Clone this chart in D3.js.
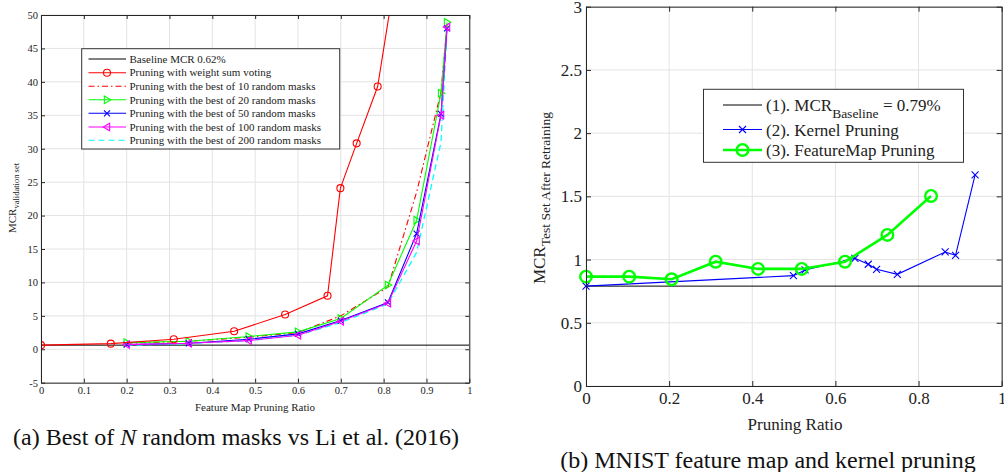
<!DOCTYPE html>
<html><head><meta charset="utf-8">
<script src="https://cdn.jsdelivr.net/npm/d3@7/dist/d3.min.js"></script>
<style>
body{margin:0;background:#fff;}
svg{font-family:"Liberation Serif","Times New Roman",Times,serif;}
</style></head>
<body><svg id="c" width="1004" height="472"></svg>
<script>
// ---------- Left chart data ----------
const leftXTicks = [0,0.1,0.2,0.3,0.4,0.5,0.6,0.7,0.8,0.9,1];
const leftYTicks = [-5,0,5,10,15,20,25,30,35,40,45,50];
const baselineLeft = 0.62;
const voteX = [0, 0.163, 0.31, 0.451, 0.57, 0.669, 0.699, 0.737, 0.786, 0.875];
const voteY = [0.62, 0.84, 1.5, 2.7, 5.2, 8.0, 24.1, 30.8, 39.3, 75];
const maskX = [0.2, 0.345, 0.485, 0.6, 0.7, 0.81, 0.877, 0.934, 0.948];
const best10Y  = [0.9, 1.2, 1.8, 2.5, 5.0, 9.3, 23.5, 38.5, 48.5];
const best20Y  = [1.0, 1.2, 1.9, 2.6, 4.6, 9.6, 19.3, 38.3, 48.9];
const best50Y  = [0.7, 0.9, 1.5, 2.3, 4.3, 7.0, 17.3, 35.2, 48.0];
const best100Y = [0.7, 0.9, 1.3, 2.1, 4.2, 6.9, 16.2, 35.0, 48.2];
const best200Y = [0.6, 0.85, 1.3, 2.1, 4.0, 6.8, 14.5, 31.0, 48.0];
const leftLegend = ["Baseline MCR 0.62%","Pruning with weight sum voting","Pruning with the best of 10 random masks","Pruning with the best of 20 random masks","Pruning with the best of 50 random masks","Pruning with the best of 100 random masks","Pruning with the best of 200 random masks"];

// ---------- Right chart data ----------
const rightXTicks = [0,0.2,0.4,0.6,0.8,1];
const rightYTicks = [0,0.5,1,1.5,2,2.5,3];
const baselineRight = 0.79;
const fmX = [0, 0.104, 0.206, 0.312, 0.414, 0.519, 0.623, 0.725, 0.83];
const fmY = [0.865, 0.865, 0.844, 0.983, 0.926, 0.926, 0.983, 1.195, 1.503];
const kX = [0, 0.499, 0.527, 0.647, 0.679, 0.699, 0.749, 0.864, 0.889, 0.936];
const kY = [0.79, 0.873, 0.918, 1.01, 0.963, 0.923, 0.883, 1.06, 1.034, 1.67];

const svg = d3.select("#c");
const AX = "#262626", GRID = "#e3e3e3";
const fmt = d => String(+d.toFixed(2));

function frame(g, x, y, xt, yt){
  const [x0,x1] = x.range(), [y0,y1] = y.range();
  g.append("g").selectAll("line").data(xt).join("line")
    .attr("x1",d=>x(d)).attr("x2",d=>x(d)).attr("y1",y0).attr("y2",y1)
    .attr("stroke",GRID).attr("stroke-width",1);
  g.append("g").selectAll("line").data(yt).join("line")
    .attr("y1",d=>y(d)).attr("y2",d=>y(d)).attr("x1",x0).attr("x2",x1)
    .attr("stroke",GRID).attr("stroke-width",1);
}
function border(g, x, y, xt, yt, fs, tl, ylabOff, xlabOff){
  const [x0,x1] = x.range(), [y0,y1] = y.range();
  const bx = d3.axisBottom(x).tickValues(xt).tickFormat(fmt).tickSizeInner(-tl).tickSizeOuter(0).tickPadding(tl+xlabOff);
  const ax = g.append("g").attr("transform",`translate(0,${y0})`).call(bx);
  const tx = d3.axisTop(x).tickValues(xt).tickFormat("").tickSizeInner(-tl).tickSizeOuter(0);
  const at = g.append("g").attr("transform",`translate(0,${y1})`).call(tx);
  const ly = d3.axisLeft(y).tickValues(yt).tickFormat(fmt).tickSizeInner(-tl).tickSizeOuter(0).tickPadding(tl+ylabOff);
  const al = g.append("g").attr("transform",`translate(${x0},0)`).call(ly);
  const ry = d3.axisRight(y).tickValues(yt).tickFormat("").tickSizeInner(-tl).tickSizeOuter(0);
  const ar = g.append("g").attr("transform",`translate(${x1},0)`).call(ry);
  [ax,at,al,ar].forEach(a=>{
    a.attr("font-family",null);
    a.select(".domain").attr("stroke",AX).attr("stroke-width",1);
    a.selectAll(".tick line").attr("stroke",AX);
    a.selectAll("text").attr("fill","#222").style("font-size",fs+"px");
  });
}
function cross(g, cx, cy, s, color, w){
  g.append("path").attr("d",`M${cx-s},${cy-s}L${cx+s},${cy+s}M${cx-s},${cy+s}L${cx+s},${cy-s}`)
    .attr("stroke",color).attr("stroke-width",w).attr("fill","none");
}
function tri(g, cx, cy, s, dir, color, w){
  const d = dir>0 ? `M${cx-s*0.7},${cy-s}L${cx+s},${cy}L${cx-s*0.7},${cy+s}Z` : `M${cx+s*0.7},${cy-s}L${cx-s},${cy}L${cx+s*0.7},${cy+s}Z`;
  g.append("path").attr("d",d).attr("stroke",color).attr("stroke-width",w).attr("fill","none");
}

// ================= LEFT =================
{
  const x = d3.scaleLinear().domain([0,1]).range([41,469.3]);
  const y = d3.scaleLinear().domain([-5,50]).range([382.7,15]);
  const g = svg.append("g");
  frame(g,x,y,leftXTicks,leftYTicks);
  g.append("defs").append("clipPath").attr("id","clipL").append("rect")
    .attr("x",41).attr("y",15).attr("width",428.3).attr("height",367.7);
  const d = g.append("g").attr("clip-path","url(#clipL)");
  const line = d3.line().x(p=>x(p[0])).y(p=>y(p[1]));
  const zip = (xs,ys)=>xs.map((v,i)=>[v,ys[i]]);
  d.append("line").attr("x1",x(0)).attr("x2",x(1)).attr("y1",y(baselineLeft)).attr("y2",y(baselineLeft)).attr("stroke","#000").attr("stroke-width",1);
  const series = [
    {ys:best200Y, c:"#00ffff", dash:"6,4", w:1.3, m:null},
    {ys:best10Y, c:"#ff0000", dash:"6,3,1.5,3", w:1.1, m:null},
    {ys:best20Y, c:"#00ff00", dash:null, w:1.1, m:"tr"},
    {ys:best50Y, c:"#0000ff", dash:null, w:1.1, m:"x"},
    {ys:best100Y, c:"#ff00ff", dash:null, w:1.1, m:"tl"},
  ];
  series.forEach(s=>{
    const pts = zip(maskX,s.ys);
    d.append("path").attr("d",line(pts)).attr("fill","none").attr("stroke",s.c).attr("stroke-width",s.w)
      .attr("stroke-dasharray",s.dash);
    if(s.m) pts.forEach(p=>{
      const cx=x(p[0]), cy=y(p[1]);
      if(s.m==="x") cross(d,cx,cy,3,s.c,1.1);
      else tri(d,cx,cy,3.8,s.m==="tr"?1:-1,s.c,1.1);
    });
  });
  const vpts = zip(voteX,voteY);
  d.append("path").attr("d",line(vpts)).attr("fill","none").attr("stroke","#ff0000").attr("stroke-width",1.1);
  d.selectAll("circle.v").data(vpts).join("circle").attr("cx",p=>x(p[0])).attr("cy",p=>y(p[1])).attr("r",3.5)
    .attr("fill","none").attr("stroke","#ff0000").attr("stroke-width",1.1);
  border(g,x,y,leftXTicks,leftYTicks,10.5,4,-1,0);
  g.append("text").attr("x",255).attr("y",411).attr("text-anchor","middle").style("font-size","11px").attr("fill","#222").text("Feature Map Pruning Ratio");
  const yl = g.append("text").attr("transform","translate(16,198) rotate(-90)").attr("text-anchor","middle").attr("fill","#222").style("font-size","11px");
  yl.append("tspan").text("MCR");
  yl.append("tspan").attr("dy",3).style("font-size","8.5px").text("validation set");
  const L = g.append("g");
  L.append("rect").attr("x",81.7).attr("y",48.7).attr("width",258).attr("height",100.3).attr("fill","#fff").attr("stroke","#333").attr("stroke-width",1);
  const rows=[59,72.7,86.2,99.8,113.3,127,140.3];
  const lstyle=[
    {c:"#000",dash:null,m:null},{c:"#ff0000",dash:null,m:"o"},{c:"#ff0000",dash:"6,3,1.5,3",m:null},
    {c:"#00ff00",dash:null,m:"tr"},{c:"#0000ff",dash:null,m:"x"},{c:"#ff00ff",dash:null,m:"tl"},{c:"#00ffff",dash:"6,4",m:null}];
  leftLegend.forEach((t,i)=>{
    const s=lstyle[i], yy=rows[i];
    L.append("line").attr("x1",88.5).attr("x2",126).attr("y1",yy).attr("y2",yy).attr("stroke",s.c).attr("stroke-width",1.1).attr("stroke-dasharray",s.dash);
    if(s.m==="o") L.append("circle").attr("cx",107).attr("cy",yy).attr("r",3.5).attr("fill","none").attr("stroke",s.c).attr("stroke-width",1.1);
    if(s.m==="x") cross(L,107,yy,3,s.c,1.1);
    if(s.m==="tr"||s.m==="tl") tri(L,107,yy,3.8,s.m==="tr"?1:-1,s.c,1.1);
    L.append("text").attr("x",129.5).attr("y",yy+3.7).style("font-size","11px").attr("fill","#222").text(t);
  });
}

// ================= RIGHT =================
{
  const x = d3.scaleLinear().domain([0,1]).range([586,1001.7]);
  const y = d3.scaleLinear().domain([0,3]).range([386,6.7]);
  const g = svg.append("g");
  frame(g,x,y,rightXTicks,rightYTicks);
  const line = d3.line().x(p=>x(p[0])).y(p=>y(p[1]));
  const zip = (xs,ys)=>xs.map((v,i)=>[v,ys[i]]);
  g.append("line").attr("x1",x(0)).attr("x2",x(1)).attr("y1",y(baselineRight)).attr("y2",y(baselineRight)).attr("stroke","#000").attr("stroke-width",1);
  const kp = zip(kX,kY);
  g.append("path").attr("d",line(kp)).attr("fill","none").attr("stroke","#0000ff").attr("stroke-width",1.1);
  kp.forEach(p=>cross(g,x(p[0]),y(p[1]),3.5,"#0000ff",1.1));
  const fp = zip(fmX,fmY);
  g.append("path").attr("d",line(fp)).attr("fill","none").attr("stroke","#00ff00").attr("stroke-width",2.6);
  g.selectAll("circle.f").data(fp).join("circle").attr("cx",p=>x(p[0])).attr("cy",p=>y(p[1])).attr("r",5.8)
    .attr("fill","none").attr("stroke","#00ff00").attr("stroke-width",2.4);
  border(g,x,y,rightXTicks,rightYTicks,17,5,-1,1);
  g.append("text").attr("x",795).attr("y",430).attr("text-anchor","middle").style("font-size","17px").attr("fill","#222").text("Pruning Ratio");
  const yl = g.append("text").attr("transform","translate(545,198) rotate(-90)").attr("text-anchor","middle").attr("fill","#222").style("font-size","17px");
  yl.append("tspan").text("MCR");
  yl.append("tspan").attr("dy",5).style("font-size","13.5px").text("Test Set After Retraining");
  const L = g.append("g");
  L.append("rect").attr("x",703.5).attr("y",89.3).attr("width",260).attr("height",73).attr("fill","#fff").attr("stroke","#333").attr("stroke-width",1);
  const t1 = L.append("text").attr("x",766).attr("y",110.5).style("font-size","17px").attr("fill","#222");
  t1.append("tspan").text("(1). MCR");
  t1.append("tspan").attr("dy",7).style("font-size","13.5px").text("Baseline");
  t1.append("tspan").attr("dy",-7).text(" = 0.79%");
  L.append("line").attr("x1",723).attr("x2",762).attr("y1",105).attr("y2",105).attr("stroke","#000").attr("stroke-width",1);
  L.append("line").attr("x1",723).attr("x2",762).attr("y1",129.5).attr("y2",129.5).attr("stroke","#0000ff").attr("stroke-width",1.1);
  cross(L,742.5,129.5,3.5,"#0000ff",1.1);
  L.append("text").attr("x",766).attr("y",135.5).style("font-size","17px").attr("fill","#222").text("(2). Kernel Pruning");
  L.append("line").attr("x1",723).attr("x2",762).attr("y1",150).attr("y2",150).attr("stroke","#00ff00").attr("stroke-width",2.6);
  L.append("circle").attr("cx",742.5).attr("cy",150).attr("r",5.8).attr("fill","none").attr("stroke","#00ff00").attr("stroke-width",2.4);
  L.append("text").attr("x",766).attr("y",156).style("font-size","17px").attr("fill","#222").text("(3). FeatureMap Pruning");
}

// ================= CAPTIONS =================
{
  const c1 = svg.append("text").attr("x",236).attr("y",445).attr("text-anchor","middle").style("font-size","24px").attr("fill","#111");
  c1.append("tspan").text("(a) Best of ");
  c1.append("tspan").style("font-style","italic").text("N");
  c1.append("tspan").text(" random masks vs Li et al. (2016)");
  svg.append("text").attr("x",768).attr("y",468).attr("text-anchor","middle").style("font-size","24px").attr("fill","#111")
    .text("(b) MNIST feature map and kernel pruning");
}
</script></body></html>
